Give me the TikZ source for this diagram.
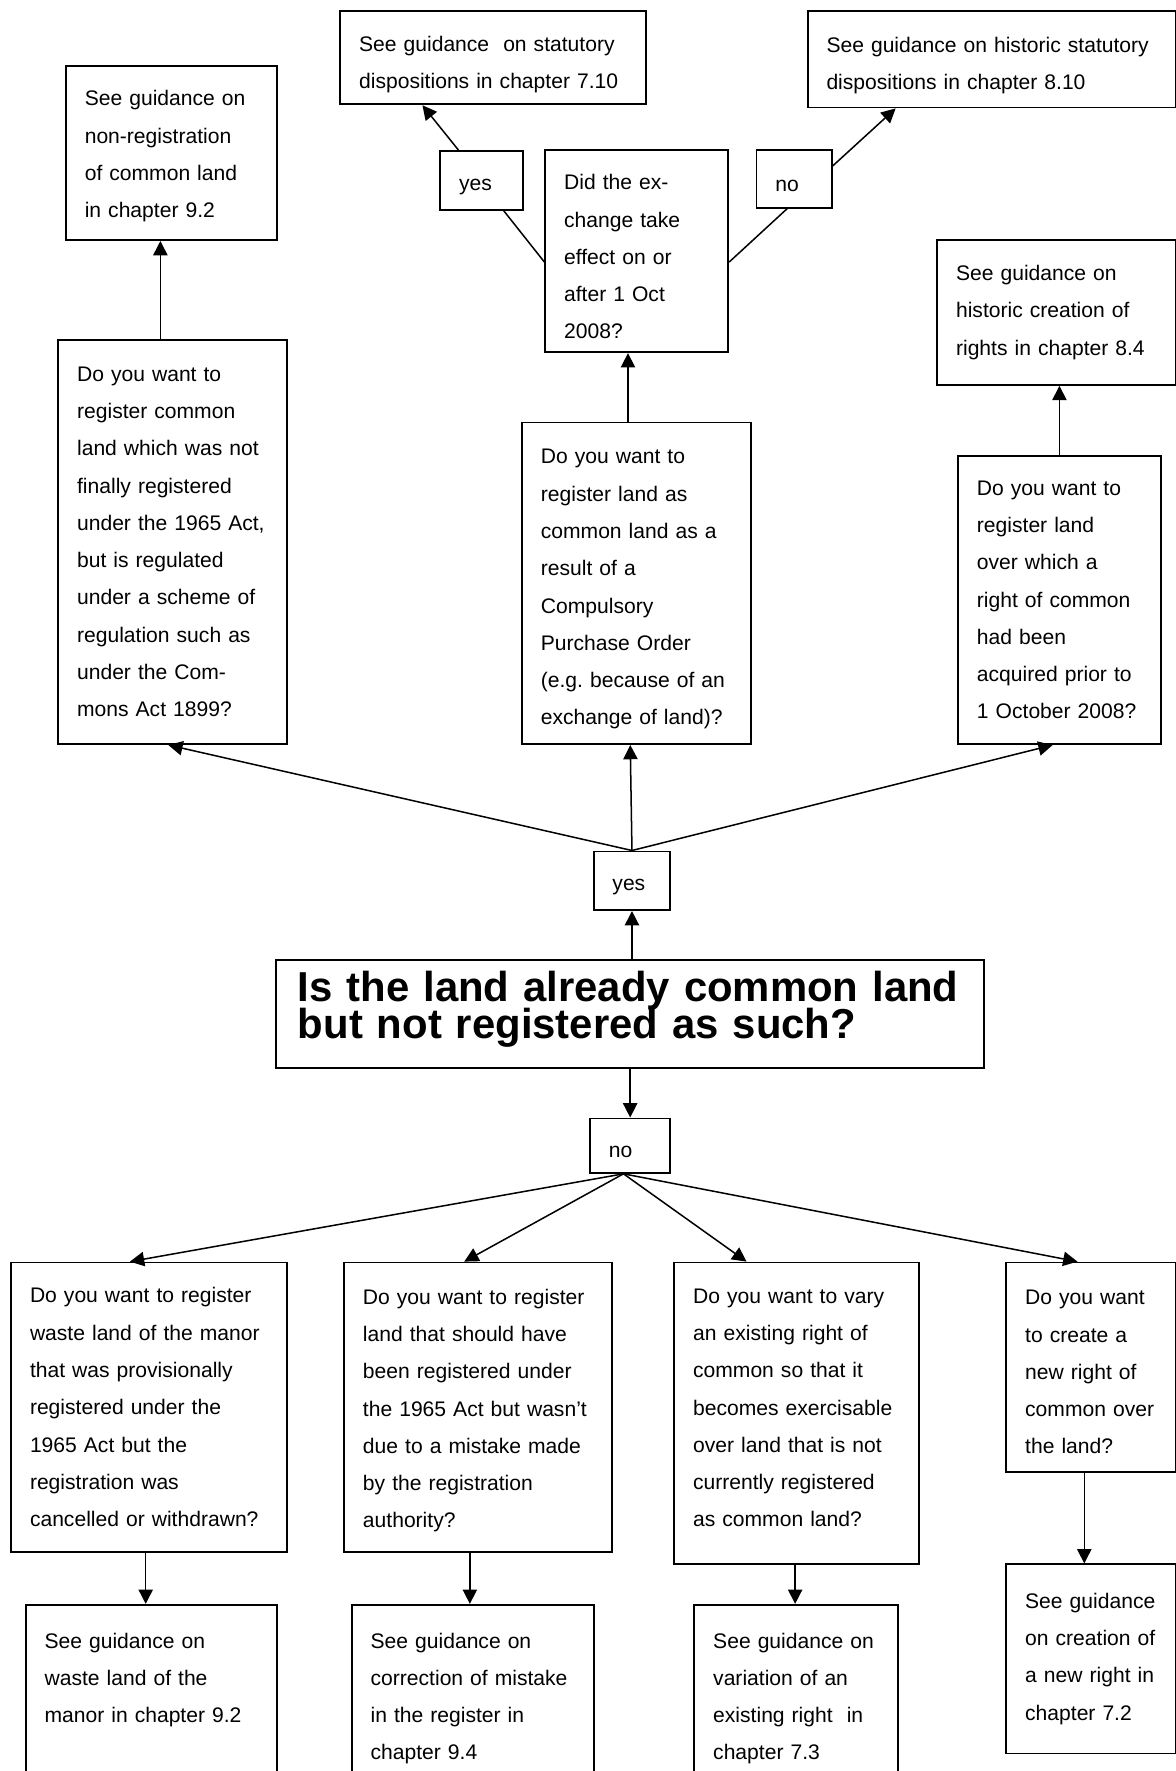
\documentclass[tikz,border=0pt]{standalone}
\usepackage{fontspec}
\setmainfont{Liberation Sans}
\usetikzlibrary{arrows.meta}

\newcommand\boxfont{\fontsize{14}{24.75}\selectfont}
\newcommand\askfont{\fontsize{27.8}{24.75}\selectfont\bfseries\lineskiplimit=-20pt}

\begin{document}
\begin{tikzpicture}[x=0.75pt, y=-0.75pt,
	qbox/.style={draw, line width=1.2pt, anchor=north west, align=left, inner xsep=12.5pt, inner ysep=0pt, font=\boxfont},
	sz/.style n args={3}{minimum width=#1pt, minimum height=#2pt, text width=#3pt},
	down/.style={execute at begin node={\rule{0pt}{#1}}},
	ask/.style={qbox, inner xsep=14.25pt, font=\askfont},
	link/.style={line width=1pt},
	arr/.style={link, -{Triangle[length=9.5pt,width=9.5pt]}} ]
	\useasboundingbox (0,0) rectangle (1041,1568);
	\clip (0,0) rectangle (1041,1568);

	% the question
	\node[ask, sz={469.8}{71.9}{441.3}] (main) at (243.9,849) {\mbox{Is the land already common land}\\but not registered as such?\rule[-12.5pt]{0pt}{12.5pt}};
	\node[qbox, down=16.3pt, sz={50.9}{39}{25.9}] (yes) at (524.8,753) {yes};
	\node[qbox, down=16.3pt, sz={53.3}{36.2}{28.3}] (no) at (521.6,989.4) {no};

	% yes side
	\node[qbox, sz={152}{268.5}{127}] (regulated) at (50.8,300) {Do you want to\\register common\\land which was not\\finally registered\\under the 1965 Act,\\but is regulated\\under a scheme of\\regulation such as\\under the Com-\\mons Act 1899?};
	\node[qbox, down=17.7pt, sz={152.1}{213.5}{127.1}] (cpo) at (461.4,373.3) {Do you want to\\register land as\\common land as a\\result of a\\Compulsory\\Purchase Order\\(e.g.\ because of an\\exchange of land)?};
	\node[qbox, sz={134.8}{191.4}{109.8}] (acquired) at (847.5,402.8) {Do you want to\\register land\\over which a\\right of common\\had been\\acquired prior to\\1 October 2008?};
	\node[qbox, down=14.6pt, sz={140.2}{115.7}{115.2}] (nonreg) at (57.6,57.5) {See guidance on\\non-registration\\of common land\\in chapter 9.2};
	\node[qbox, down=17.7pt, sz={121.5}{134.3}{96.5}] (exch) at (482,132) {Did the ex-\\change take\\effect on or\\after 1 Oct\\2008?};
	\node[qbox, sz={158.3}{96.3}{133.3}] (hist84) at (829,211.6) {See guidance on\\historic creation of\\rights in chapter 8.4};
	\node[qbox, down=16.3pt, sz={54.8}{39}{29.8}] (yesa) at (389,133) {yes};
	\node[qbox, down=16.3pt, sz={49.9}{38.3}{24.9}] (noa) at (669,132) {no};
	\node[qbox, down=19.2pt, sz={203.1}{62}{178.1}] (stat) at (300.5,8.9) {See guidance \ on statutory\\dispositions in chapter 7.10};
	\node[qbox, down=18.5pt, sz={244.3}{64.1}{219.3}] (histstat) at (714.3,8.9) {See guidance on historic statutory\\dispositions in chapter 8.10};

	% no side
	\node[qbox, sz={183.2}{192.2}{158.2}] (waste) at (9.1,1117) {Do you want to register\\waste land of the manor\\that was provisionally\\registered under the\\1965 Act but the\\registration was\\cancelled or withdrawn?};
	\node[qbox, down=14.7pt, sz={178.1}{192.2}{153.1}] (mistake) at (303.9,1117) {Do you want to register\\land that should have\\been registered under\\the 1965 Act but wasn't\\due to a mistake made\\by the registration\\authority?};
	\node[qbox, sz={162.5}{200.4}{137.5}] (vary) at (596.2,1117) {Do you want to vary\\an existing right of\\common so that it\\becomes exercisable\\over land that is not\\currently registered\\as common land?\rule[-7.5pt]{0pt}{7.5pt}};
	\node[qbox, down=16.2pt, sz={112.5}{139.1}{87.5}] (create) at (890.2,1117) {Do you want\\to create a\\new right of\\common over\\the land?};
	\node[qbox, sz={167}{146.3}{142}] (gwaste) at (22,1420) {See guidance on\\waste land of the\\manor in chapter 9.2\\\mbox{}\\\mbox{}};
	\node[qbox, sz={160.9}{146.3}{135.9}] (gmistake) at (310.7,1420) {See guidance on\\correction of mistake\\in the register in\\chapter 9.4\\\mbox{}};
	\node[qbox, sz={135}{146.3}{110}] (gvary) at (614,1420) {See guidance on\\variation of an\\existing right \ in\\chapter 7.3\\\mbox{}};
	\node[qbox, sz={112.5}{125.6}{87.5}] (gcreate) at (890.2,1384.2) {See guidance\\on creation of\\a new right in\\chapter 7.2\rule[-3pt]{0pt}{3pt}};

	\draw[arr] (main.north -| yes.south) -- (yes.south);
	\draw[arr] (main.south -| no.north) -- (no.north);

	\foreach \t/\x in {regulated/149, cpo/558, acquired/932}
		\draw[arr] (yes.north) -- (\t.south -| \x,0);
	\draw[arr] (regulated.north -| 142,0) -- (nonreg.south -| 142,0);
	\draw[arr] (cpo.north -| 556,0) -- (exch.south -| 556,0);
	\draw[arr] (acquired.north -| 938,0) -- (hist84.south -| 938,0);
	\draw[link] (exch.west |- 0,232) -- (yesa.south -| 446,0);
	\draw[arr] (yesa.north -| 406,0) -- (stat.south -| 374,0);
	\draw[link] (exch.east |- 0,232) -- (noa.south -| 697,0);
	\draw[arr] (noa.east |- 0,147) -- (histstat.south -| 793,0);

	\foreach \t/\x in {waste/115, mistake/411, vary/661, create/954}
		\draw[arr] (no.south -| 552,0) -- (\t.north -| \x,0);
	\draw[arr] (waste.south -| 129,0) -- (gwaste.north -| 129,0);
	\draw[arr] (mistake.south -| 416,0) -- (gmistake.north -| 416,0);
	\draw[arr] (vary.south -| 704,0) -- (gvary.north -| 704,0);
	\draw[arr] (create.south -| 960,0) -- (gcreate.north -| 960,0);
\end{tikzpicture}
\end{document}
